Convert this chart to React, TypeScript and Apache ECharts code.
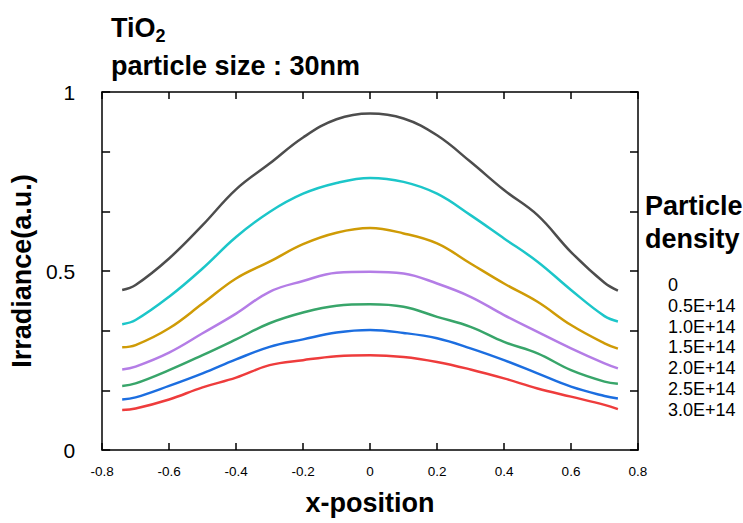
import React, { useEffect, useRef } from "react";
import * as echarts from "echarts";

const xPositions = [-0.74, -0.7, -0.6, -0.5, -0.4, -0.3, -0.2, -0.1, 0, 0.1, 0.2, 0.3, 0.4, 0.5, 0.6, 0.7, 0.74];

const density0 = [0.447, 0.461, 0.535, 0.628, 0.728, 0.8, 0.873, 0.924, 0.94, 0.926, 0.879, 0.805, 0.726, 0.656, 0.553, 0.467, 0.445];
const density05 = [0.351, 0.363, 0.428, 0.507, 0.595, 0.665, 0.716, 0.746, 0.76, 0.749, 0.716, 0.656, 0.591, 0.526, 0.447, 0.374, 0.359];
const density10 = [0.287, 0.293, 0.34, 0.409, 0.479, 0.526, 0.575, 0.607, 0.62, 0.605, 0.577, 0.521, 0.465, 0.414, 0.349, 0.298, 0.283];
const density15 = [0.225, 0.233, 0.272, 0.326, 0.381, 0.442, 0.472, 0.495, 0.498, 0.493, 0.465, 0.428, 0.377, 0.33, 0.284, 0.242, 0.228];
const density20 = [0.179, 0.186, 0.223, 0.265, 0.309, 0.354, 0.384, 0.403, 0.407, 0.4, 0.372, 0.344, 0.302, 0.27, 0.223, 0.191, 0.185];
const density25 = [0.141, 0.147, 0.179, 0.214, 0.253, 0.288, 0.309, 0.328, 0.335, 0.327, 0.312, 0.284, 0.251, 0.214, 0.177, 0.151, 0.144];
const density30 = [0.112, 0.116, 0.141, 0.175, 0.202, 0.237, 0.251, 0.262, 0.265, 0.26, 0.246, 0.225, 0.2, 0.172, 0.149, 0.126, 0.114];

const seriesNames = ["0", "0.5E+14", "1.0E+14", "1.5E+14", "2.0E+14", "2.5E+14", "3.0E+14"];
const seriesValues = [density0, density05, density10, density15, density20, density25, density30];
const seriesColors = ["#4d4d4d", "#1cc6c9", "#cf9b06", "#b47de6", "#38a56a", "#1c6ee0", "#ee3c3c"];

const FONT = "'Liberation Sans', Arial, sans-serif";

export default function App() {
  const ref = useRef<HTMLDivElement>(null);
  useEffect(() => {
    if (!ref.current) return;
    const chart = echarts.init(ref.current, undefined, { renderer: "svg" });
    const axisLine = { show: true, onZero: false, lineStyle: { color: "#000", width: 1.5 } };
    const tickX = { show: true, inside: true, length: 7, lineStyle: { color: "#000", width: 1.5 } };
    const tickY = { show: true, inside: true, length: 8, lineStyle: { color: "#000", width: 1.5 } };
    const option: any = {
      animation: false,
      backgroundColor: "#fff",
      textStyle: { fontFamily: FONT },
      title: [
        {
          left: 106,
          top: 4,
          text: "{a|TiO}{s|2}\n{a|particle size : 30nm}",
          textStyle: {
            rich: {
              a: { fontFamily: FONT, fontWeight: "bold", fontSize: 27, color: "#000", lineHeight: 38 },
              s: { fontFamily: FONT, fontWeight: "bold", fontSize: 18, color: "#000", padding: [16, 0, 0, 0], lineHeight: 38 },
            },
          },
        },
        {
          left: 640,
          top: 184,
          text: "Particle\ndensity",
          textStyle: { fontFamily: FONT, fontWeight: "bold", fontSize: 27, color: "#000", lineHeight: 33 },
        },
      ],
      legend: {
        orient: "vertical",
        left: 658,
        top: 271,
        icon: "none",
        itemWidth: 0,
        itemHeight: 18,
        itemGap: 2.8,
        data: seriesNames,
        textStyle: { fontFamily: FONT, fontSize: 18, lineHeight: 18, color: "#000" },
      },
      grid: { left: 92, top: 92, width: 546, height: 358, containLabel: false },
      xAxis: [
        {
          type: "value",
          position: "bottom",
          min: -0.8,
          max: 0.8,
          interval: 0.2,
          axisLine,
          axisTick: tickX,
          axisLabel: {
            margin: 14,
            fontFamily: FONT,
            fontSize: 13.5,
            color: "#000",
            formatter: (v: number) => (Math.abs(v) < 1e-9 ? "0" : String(Math.round(v * 10) / 10)),
          },
          splitLine: { show: false },
          name: "x-position",
          nameLocation: "middle",
          nameGap: 39,
          nameTextStyle: { fontFamily: FONT, fontWeight: "bold", fontSize: 27, color: "#000" },
        },
        {
          type: "value",
          position: "top",
          min: -0.8,
          max: 0.8,
          interval: 0.2,
          axisLine,
          axisTick: tickX,
          axisLabel: { show: false },
          splitLine: { show: false },
        },
      ],
      yAxis: [
        {
          type: "value",
          position: "left",
          min: 0,
          max: 1,
          interval: 1 / 6,
          axisLine,
          axisTick: tickY,
          axisLabel: {
            margin: 27,
            fontFamily: FONT,
            fontSize: 21,
            color: "#000",
            formatter: (v: number) => {
              if (Math.abs(v) < 1e-6) return "0";
              if (Math.abs(v - 0.5) < 1e-6) return "0.5";
              if (Math.abs(v - 1) < 1e-6) return "1";
              return "";
            },
          },
          splitLine: { show: false },
          name: "Irradiance(a.u.)",
          nameLocation: "middle",
          nameGap: 52,
          nameTextStyle: { fontFamily: FONT, fontWeight: "bold", fontSize: 27, color: "#000" },
        },
        {
          type: "value",
          position: "right",
          min: 0,
          max: 1,
          interval: 1 / 6,
          axisLine,
          axisTick: tickY,
          axisLabel: { show: false },
          splitLine: { show: false },
        },
      ],
      series: seriesNames.map((name, i) => ({
        name,
        type: "line",
        xAxisIndex: 0,
        yAxisIndex: 0,
        smooth: 0.4,
        showSymbol: false,
        symbol: "none",
        color: seriesColors[i],
        lineStyle: { color: seriesColors[i], width: 2.5 },
        data: xPositions.map((x, j) => [x, seriesValues[i][j]]),
      })),
    };
    chart.setOption(option);
    return () => chart.dispose();
  }, []);
  return <div ref={ref} style={{ position: "fixed", left: 0, top: 0, width: 743, height: 523 }} />;
}
